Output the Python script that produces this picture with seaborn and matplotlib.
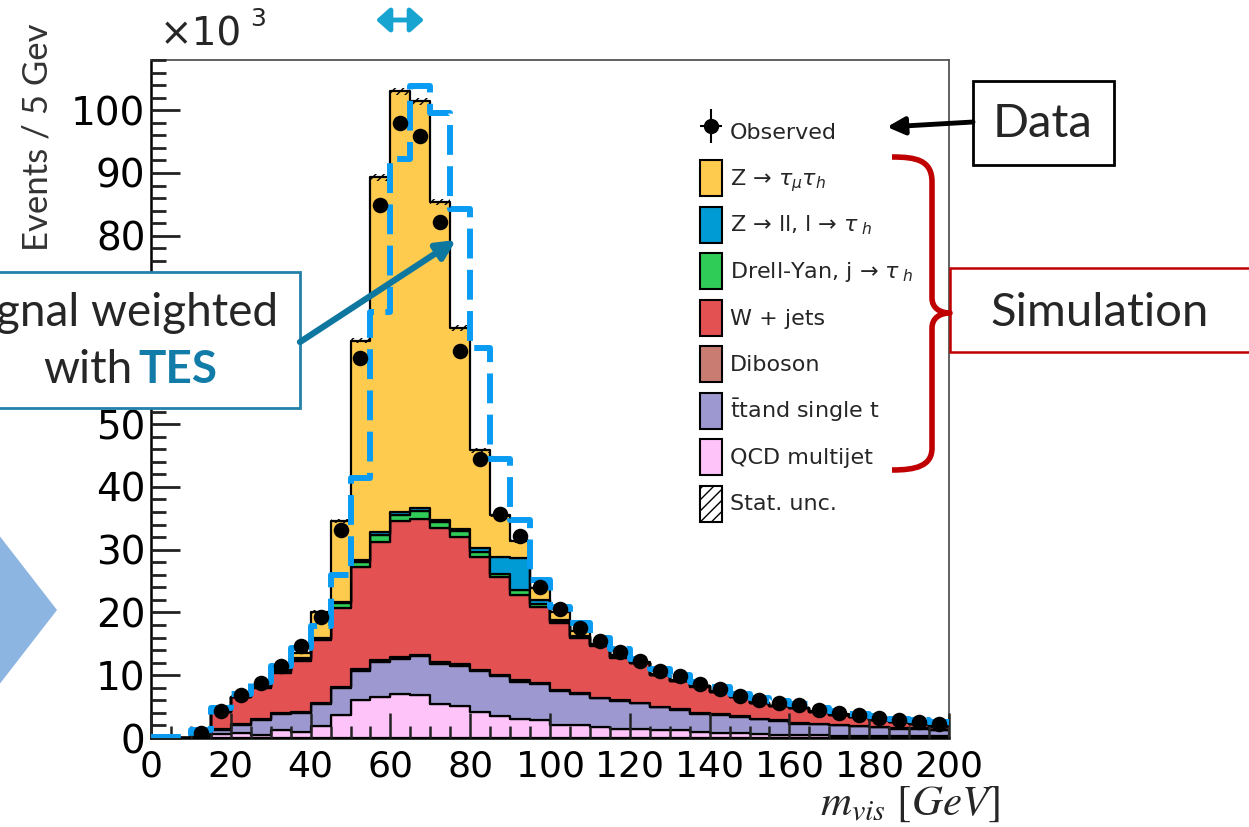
import matplotlib
matplotlib.use("Agg")
import numpy as np
import pandas as pd
import matplotlib.pyplot as plt
import seaborn as sns
from matplotlib.patches import Rectangle, Patch, Polygon, FancyArrowPatch, PathPatch
from matplotlib.path import Path
from matplotlib.lines import Line2D
from matplotlib.ticker import MultipleLocator
from matplotlib.legend_handler import HandlerTuple

# ---------------- data (x10^3 events per 5 GeV bin, 0..200 GeV) ----------------
bin_edges = list(range(0, 205, 5))

process_labels = [
    "Z → $\\tau_{\\mu}\\tau_{h}$",
    "Z → ll, l → $\\tau_{\\;h}$",
    "Drell-Yan, j → $\\tau_{\\;h}$",
    "W + jets",
    "Diboson",
    "$\\bar{\\mathrm{t}}$tand single t",
    "QCD multijet",
]
process_colors = ["#FFCB4F", "#009AD4", "#2FCC57", "#E35152", "#C97D72", "#9D98D0", "#FEC4FA"]

z_tautau = [0, 0, 0.05, 0.05, 0, 0, 0.1, 0.9, 4.2, 13.0, 34.9, 56.5, 67.0, 64.8, 50.65, 32.0, 15.6, 6.7, 2.7, 1.85,
            1.3, 0.7, 0.15, 0.25, 0.1, 0.1, 0.1, 0.05, 0.05, 0.05, 0.05, 0.05, 0.05, 0.05, 0.05, 0.05, 0.05, 0.05, 0.05, 0.05]
z_ll = [0, 0, 0, 0.05, 0.05, 0, 0.05, 0.1, 0.1, 0.1, 0.3, 0.4, 0.5, 0.4, 0.4, 0.4, 0.5, 2.7, 5.2, 0.75,
        0.4, 0.2, 0.05, 0.05, 0.05, 0.05, 0, 0, 0, 0, 0, 0, 0, 0, 0, 0, 0, 0, 0, 0]
drell_yan = [0, 0, 0, 0.05, 0.05, 0.1, 0.4, 0.3, 0.2, 0.8, 0.8, 1.2, 1.0, 1.3, 0.85, 0.9, 0.9, 0.5, 0.8, 0.5,
             0.1, 0.1, 0.2, 0.1, 0.05, 0.05, 0.05, 0.05, 0, 0, 0, 0, 0, 0, 0, 0, 0, 0, 0, 0]
w_jets = [0, 0, 0.3, 2.6, 4.25, 5.0, 6.3, 8.1, 10.0, 12.5, 16.3, 18.8, 21.6, 21.6, 21.4, 20.2, 17.9, 15.55, 13.5, 12.0,
          10.65, 8.85, 8.2, 6.8, 6.3, 5.0, 4.5, 4.2, 3.6, 3.1, 2.5, 2.3, 2.3, 1.9, 1.65, 1.35, 1.15, 0.95, 0.65, 0.45]
diboson = [0, 0, 0, 0.3, 0.15, 0.2, 0.2, 0.2, 0.2, 0.3, 0.3, 0.3, 0.3, 0.3, 0.3, 0.3, 0.3, 0.25, 0.2, 0.2,
           0.15, 0.15, 0.1, 0.1, 0.1, 0.1, 0.1, 0.1, 0.1, 0.1, 0.1, 0.1, 0.1, 0.1, 0.05, 0.05, 0.05, 0.05, 0.05, 0.05]
ttbar_single_t = [0, 0, 0.1, 0.6, 1.35, 2.3, 2.6, 3.0, 3.5, 4.2, 4.6, 5.5, 5.6, 6.2, 6.4, 6.4, 6.4, 6.3, 6.0, 5.7,
                  5.4, 4.9, 4.5, 4.4, 4.1, 3.7, 3.3, 2.9, 2.95, 2.65, 2.4, 2.2, 1.9, 1.8, 1.65, 1.55, 1.4, 1.2, 1.2, 1.05]
qcd_multijet = [0, 0, 0.05, 0.6, 0.75, 0.5, 1.2, 1.0, 1.9, 3.7, 6.1, 6.6, 7.0, 6.8, 5.4, 5.1, 4.2, 3.5, 3.0, 2.9,
                2.1, 2.1, 1.8, 1.5, 1.4, 1.2, 1.2, 1.0, 0.75, 0.75, 0.6, 0.5, 0.4, 0.4, 0.35, 0.35, 0.3, 0.3, 0.3, 0.25]

observed = [np.nan, np.nan, 0.8, 4.35, 6.8, 8.8, 11.5, 14.6, 19.3, 33.1, 60.5, 84.9, 98.0, 95.9, 82.2, 61.6, 44.4, 35.7, 32.1, 24.1,
            20.5, 17.5, 15.5, 13.7, 12.3, 10.7, 9.8, 8.6, 7.8, 6.7, 6.1, 5.6, 5.2, 4.5, 4.0, 3.7, 3.2, 2.9, 2.6, 2.3]

tes_weighted = [0.2, 0.2, 1.2, 4.7, 7.0, 9.0, 11.4, 14.3, 17.8, 26.0, 41.4, 67.8, 92.3, 103.8, 99.6, 84.2, 62.1, 44.4, 34.8, 25.2,
                20.9, 18.3, 16.0, 14.1, 12.6, 11.0, 10.0, 8.9, 8.1, 7.0, 6.4, 5.9, 5.4, 4.8, 4.3, 3.9, 3.5, 3.1, 2.8, 2.5]

stat_unc = [0.05, 0.05, 0.1, 0.2, 0.2, 0.2, 0.2, 0.25, 0.3, 0.35, 0.45, 0.5, 0.55, 0.55, 0.5, 0.45, 0.35, 0.3, 0.3, 0.25,
            0.2, 0.2, 0.2, 0.2, 0.2, 0.15, 0.15, 0.15, 0.15, 0.15, 0.1, 0.1, 0.1, 0.1, 0.1, 0.1, 0.1, 0.1, 0.1, 0.1]

y_ticks = [0, 10, 20, 30, 40, 50, 60, 70, 80, 90, 100]
x_ticks = [0, 20, 40, 60, 80, 100, 120, 140, 160, 180, 200]

# ---------------- figure ----------------
sns.set_style("ticks")
plt.rcParams["font.family"] = ["DejaVu Sans"]
plt.rcParams["mathtext.fontset"] = "dejavusans"
plt.rcParams["hatch.linewidth"] = 1.0
plt.rcParams["axes.axisbelow"] = False

W, H = 1249, 827
fig = plt.figure(figsize=(W / 100, H / 100), dpi=100)


def F(x, y):
    return (x / W, 1 - y / H)


ax = fig.add_axes([151 / W, 1 - 738 / H, (949 - 151) / W, (738 - 60) / H])
ax.set_axisbelow(False)

edges = np.array(bin_edges, dtype=float)
centers = (edges[:-1] + edges[1:]) / 2
series = [z_tautau, z_ll, drell_yan, w_jets, diboson, ttbar_single_t, qcd_multijet]

rows = []
for lab, vals in zip(process_labels, series):
    for c, v in zip(centers, vals):
        rows.append((c, v, lab))
df = pd.DataFrame(rows, columns=["mvis", "events", "process"])

sns.histplot(data=df, x="mvis", weights="events", hue="process", hue_order=process_labels,
             palette=dict(zip(process_labels, process_colors)), bins=list(bin_edges), multiple="stack",
             element="step", alpha=1, edgecolor="black", linewidth=1.6, legend=False, ax=ax)

total = np.sum(np.array(series, dtype=float), axis=0)
unc = np.array(stat_unc)
ax.bar(centers, 2 * unc, bottom=total - unc, width=5, fill=False, hatch="////",
       linewidth=0, edgecolor="black", zorder=3)

sns.histplot(x=list(centers), weights=tes_weighted, bins=list(bin_edges), element="step", fill=False,
             color="#0A9CF2", linewidth=4.3, linestyle=(0, (5.0, 1.9)), ax=ax, zorder=4)

obs_df = pd.DataFrame({"mvis": centers, "obs": observed}).dropna()
sns.scatterplot(data=obs_df, x="mvis", y="obs", color="black", s=125, linewidth=0,
                zorder=6, ax=ax, legend=False)

ax.set_xlim(0, 200)
ax.set_ylim(0, 108)
ax.set_xlabel("")
ax.set_ylabel("")
ax.set_xticks(x_ticks)
ax.set_yticks(y_ticks)
ax.set_xticklabels([str(t) for t in x_ticks])
ax.set_yticklabels([str(t) for t in y_ticks])
ax.xaxis.set_minor_locator(MultipleLocator(5))
ax.yaxis.set_minor_locator(MultipleLocator(2))
ax.tick_params(axis="y", which="major", left=True, right=False, direction="in", length=21, width=2.0,
               color="#222222", labelcolor="black", labelsize=28, pad=4)
ax.tick_params(axis="y", which="minor", left=True, right=False, direction="in", length=11, width=2.0,
               color="#222222")
ax.tick_params(axis="x", which="major", bottom=True, top=False, direction="in", length=18, width=1.8,
               color="#222222", labelcolor="black", labelsize=26, pad=8)
ax.tick_params(axis="x", which="minor", bottom=True, top=False, direction="in", length=9, width=1.8,
               color="#222222")
for s in ["left", "bottom"]:
    ax.spines[s].set_color("black")
    ax.spines[s].set_linewidth(1.8)
for s in ["top", "right"]:
    ax.spines[s].set_visible(True)
    ax.spines[s].set_color("#555555")
    ax.spines[s].set_linewidth(1.3)

# ---------------- legend ----------------
obs_handle = (Line2D([], [], marker="|", color="black", markersize=25, markeredgewidth=1.5, linestyle="none"),
              Line2D([], [], marker="_", color="black", markersize=16, markeredgewidth=1.5, linestyle="none"),
              Line2D([], [], marker="o", color="black", markersize=10, linestyle="none"))
handles = [obs_handle] + [Patch(facecolor=c, edgecolor="black", linewidth=1.5) for c in process_colors] + \
          [Patch(facecolor="white", edgecolor="black", linewidth=1.5, hatch="///")]
labels = ["Observed"] + process_labels + ["Stat. unc."]
ax.legend(handles, labels, loc="upper left", bbox_to_anchor=F(700, 114), bbox_transform=fig.transFigure,
          frameon=False, fontsize=16, handlelength=1.0, handleheight=2.115, labelspacing=0.47,
          handletextpad=0.36, borderpad=0, borderaxespad=0, numpoints=1,
          handler_map={tuple: HandlerTuple(ndivide=1)})

# ---------------- annotations ----------------
fig.text(*F(160, 46), "×10", fontsize=28, ha="left", va="baseline")
fig.text(*F(250, 26), "3", fontsize=18, ha="left", va="baseline")
fig.text(*F(38, 137), "Events / 5 Gev", fontsize=25, family="Lato", rotation=90,
         ha="center", va="center", color="#333333")
fig.text(*F(910, 803), r"$m_{vis}\ [GeV]$", fontsize=31, ha="center", va="center", math_fontfamily="stix")

# top cyan double arrow
fig.add_artist(FancyArrowPatch(F(376, 20), F(424, 20), transform=fig.transFigure,
                               arrowstyle="<|-|>,head_length=0.45,head_width=0.4",
                               mutation_scale=18, lw=3.5, color="#18A4D0", shrinkA=0, shrinkB=0, zorder=10))

# left light-blue chevron
fig.add_artist(Polygon([F(-5, 530), F(57, 610), F(-5, 690)], closed=True, transform=fig.transFigure,
                       facecolor="#8DB5E1", edgecolor="none", zorder=10))

# TES box
fig.add_artist(Rectangle(F(-10, 408), 310 / W, 136 / H, transform=fig.transFigure, facecolor="white",
                         edgecolor="#2381A8", lw=2, zorder=10))
fig.text(*F(278, 326), "Signal weighted", fontsize=33, family="Lato", ha="right", va="baseline", zorder=11)
fig.text(*F(43, 383), "with", fontsize=33, family="Lato", ha="left", va="baseline", zorder=11)
fig.text(*F(138, 383), "TES", fontsize=33, family="Lato", weight="bold", color="#127CA8",
         ha="left", va="baseline", zorder=11)
fig.add_artist(FancyArrowPatch(F(300, 342), F(456, 240), transform=fig.transFigure, arrowstyle="-|>",
                               mutation_scale=28, lw=4.5, color="#0E77A0", shrinkA=0, shrinkB=0, zorder=10))

# Data box
fig.add_artist(Rectangle(F(973, 165), 141 / W, 84 / H, transform=fig.transFigure, facecolor="white",
                         edgecolor="black", lw=2, zorder=10))
fig.text(*F(1043, 124), "Data", fontsize=34, family="Lato", ha="center", va="center", zorder=11)
fig.add_artist(FancyArrowPatch(F(973, 122), F(887, 127), transform=fig.transFigure, arrowstyle="-|>",
                               mutation_scale=26, lw=3.5, color="black", shrinkA=0, shrinkB=0, zorder=10))

# Simulation box
fig.add_artist(Rectangle(F(950, 352), 320 / W, 84 / H, transform=fig.transFigure, facecolor="white",
                         edgecolor="#C00000", lw=1.8, zorder=10))
fig.text(*F(1100, 313), "Simulation", fontsize=34, family="Lato", ha="center", va="center", zorder=11)

# red curly brace
pts = [(892, 157), (916, 157), (932, 160), (932, 182), (932, 298), (932, 308), (940, 313), (950, 313),
       (940, 313), (932, 318), (932, 328), (932, 448), (932, 466), (916, 470), (892, 470)]
codes = [Path.MOVETO, Path.CURVE4, Path.CURVE4, Path.CURVE4, Path.LINETO, Path.CURVE4, Path.CURVE4, Path.CURVE4,
         Path.CURVE4, Path.CURVE4, Path.CURVE4, Path.LINETO, Path.CURVE4, Path.CURVE4, Path.CURVE4]
brace = Path([F(*p) for p in pts], codes)
fig.add_artist(PathPatch(brace, transform=fig.transFigure, fill=False, edgecolor="#C00000", lw=4,
                         capstyle="butt", joinstyle="round", zorder=12))

fig.savefig("out.png", dpi=100)
